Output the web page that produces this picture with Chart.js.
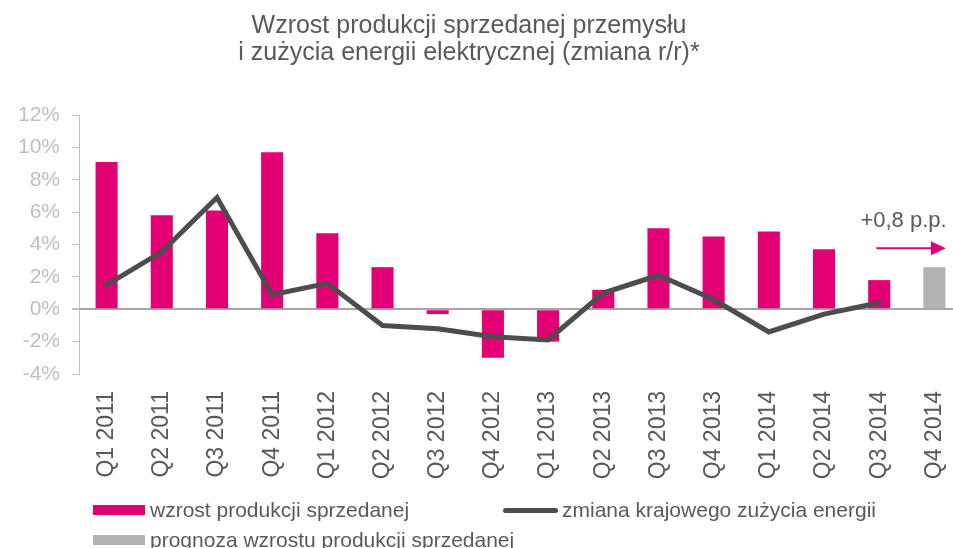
<!DOCTYPE html>
<html lang="pl">
<head>
<meta charset="utf-8">
<script src="https://cdn.jsdelivr.net/npm/chart.js@4.4.1/dist/chart.umd.min.js"></script>
<style>
  html, body { margin: 0; padding: 0; background: #fff; }
  #wrap { position: relative; width: 953px; height: 548px; overflow: hidden; font-family: "Liberation Sans", Arial, sans-serif; }
  #chart { position: absolute; left: 0; top: 0; }
  #title { position: absolute; left: 0; top: 11px; width: 938px; text-align: center; font-size: 25px; line-height: 27px; color: #595959; }
  .box { position: absolute; width: 52px; height: 10px; }
  .swatch-line { position: absolute; width: 55px; height: 5px; border-radius: 3px; background: #4d4d4d; }
  .lbl { position: absolute; font-size: 21px; line-height: 24px; color: #595959; white-space: nowrap; }
</style>
</head>
<body>
<div id="wrap">
  <canvas id="chart" width="962" height="548"></canvas>
  <div id="title">Wzrost produkcji sprzedanej przemysłu<br>i zużycia energii elektrycznej (zmiana r/r)*</div>
  <div class="box" style="left:93px; top:505px; background:#e20074;"></div>
  <div class="lbl" style="left:150px; top:498px;">wzrost produkcji sprzedanej</div>
  <div class="swatch-line" style="left:503px; top:508px;"></div>
  <div class="lbl" style="left:562px; top:498px;">zmiana krajowego zużycia energii</div>
  <div class="box" style="left:93px; top:535px; background:#b2b2b2;"></div>
  <div class="lbl" style="left:150px; top:528px;">prognoza wzrostu produkcji sprzedanej</div>
</div>
<script>
// dane (%)
const quarters = ['Q1 2011', 'Q2 2011', 'Q3 2011', 'Q4 2011',
                  'Q1 2012', 'Q2 2012', 'Q3 2012', 'Q4 2012',
                  'Q1 2013', 'Q2 2013', 'Q3 2013', 'Q4 2013',
                  'Q1 2014', 'Q2 2014', 'Q3 2014', 'Q4 2014'];
const production = [9.1, 5.8, 6.1, 9.7, 4.7, 2.6, -0.3, -3.0,
                    -2.0, 1.2, 5.0, 4.5, 4.8, 3.7, 1.8, null];
const forecast = [null, null, null, null, null, null, null, null,
                  null, null, null, null, null, null, null, 2.6];
const energy = [1.5, 3.55, 6.9, 0.9, 1.6, -1.0, -1.2, -1.7,
                -1.9, 1.0, 2.1, 0.6, -1.4, -0.3, 0.4, null];
const yTicks = [-4, -2, 0, 2, 4, 6, 8, 10, 12];
const forecastNote = '+0,8 p.p.';

const PINK = '#e20074';
const GREY_BAR = '#b2b2b2';
const LINE = '#4d4d4d';

// strzałka i opis nad słupkiem prognozy
const notePlugin = {
    id: 'note',
    afterDatasetsDraw(chart) {
        const ctx = chart.ctx;
        const xs = chart.scales.x;
        const ys = chart.scales.y;
        const last = quarters.length - 1;
        const cx = xs.getPixelForValue(last);
        const top = ys.getPixelForValue(forecast[last]);
        const ay = top - 19;
        const x0 = cx - 58;
        const x1 = cx + 11.5;
        ctx.save();
        ctx.strokeStyle = PINK;
        ctx.fillStyle = PINK;
        ctx.lineWidth = 2;
        ctx.beginPath();
        ctx.moveTo(x0, ay);
        ctx.lineTo(x1 - 14, ay);
        ctx.stroke();
        ctx.beginPath();
        ctx.moveTo(x1, ay);
        ctx.lineTo(x1 - 15, ay - 7);
        ctx.lineTo(x1 - 15, ay + 7);
        ctx.closePath();
        ctx.fill();
        ctx.fillStyle = '#595959';
        ctx.font = '22px "Liberation Sans", Arial, sans-serif';
        ctx.textAlign = 'left';
        ctx.textBaseline = 'alphabetic';
        ctx.fillText(forecastNote, cx - 74, top - 40);
        ctx.restore();
    }
};

window.onload = function() {
    const ctx = document.getElementById('chart').getContext('2d');
    new Chart(ctx, {
        type: 'bar',
        data: {
            labels: quarters,
            datasets: [
                {
                    type: 'line',
                    label: 'zmiana krajowego zużycia energii',
                    data: energy,
                    borderColor: LINE,
                    borderWidth: 5,
                    pointRadius: 0,
                    borderCapStyle: 'round',
                    fill: false,
                    order: 0
                },
                {
                    label: 'wzrost produkcji sprzedanej',
                    data: production,
                    backgroundColor: PINK,
                    grouped: false,
                    barPercentage: 0.4,
                    categoryPercentage: 1,
                    order: 1
                },
                {
                    label: 'prognoza wzrostu produkcji sprzedanej',
                    data: forecast,
                    backgroundColor: GREY_BAR,
                    grouped: false,
                    barPercentage: 0.4,
                    categoryPercentage: 1,
                    order: 1
                }
            ]
        },
        options: {
            responsive: false,
            animation: false,
            layout: { padding: { top: 115, left: 0, right: 0, bottom: 0 } },
            plugins: {
                legend: { display: false },
                title: { display: false },
                tooltip: { enabled: false }
            },
            scales: {
                x: {
                    offset: true,
                    grid: { display: false },
                    border: { display: false },
                    ticks: {
                        minRotation: 90,
                        maxRotation: 90,
                        padding: 9,
                        color: '#595959',
                        font: { family: '"Liberation Sans", Arial, sans-serif', size: 23 }
                    },
                    afterFit: function(scale) {
                        scale.height = 174;
                        scale.paddingLeft = 0;
                        scale.paddingRight = 0;
                    }
                },
                y: {
                    min: -4,
                    max: 12,
                    afterBuildTicks: function(scale) {
                        scale.ticks = yTicks.map(v => ({ value: v }));
                    },
                    grid: {
                        drawOnChartArea: true,
                        drawTicks: true,
                        tickLength: 7,
                        tickColor: '#bfbfbf',
                        color: c => (c.tick && c.tick.value === 0) ? '#a6a6a6' : 'rgba(0,0,0,0)',
                        lineWidth: c => (c.tick && c.tick.value === 0) ? 2 : 1
                    },
                    border: { color: '#bfbfbf', width: 1 },
                    ticks: {
                        padding: 12,
                        color: '#bfbfbf',
                        font: { family: '"Liberation Sans", Arial, sans-serif', size: 21 },
                        callback: v => v + '%'
                    },
                    afterFit: function(scale) { scale.width = 79; }
                }
            }
        },
        plugins: [notePlugin]
    });
};
</script>
</body>
</html>
